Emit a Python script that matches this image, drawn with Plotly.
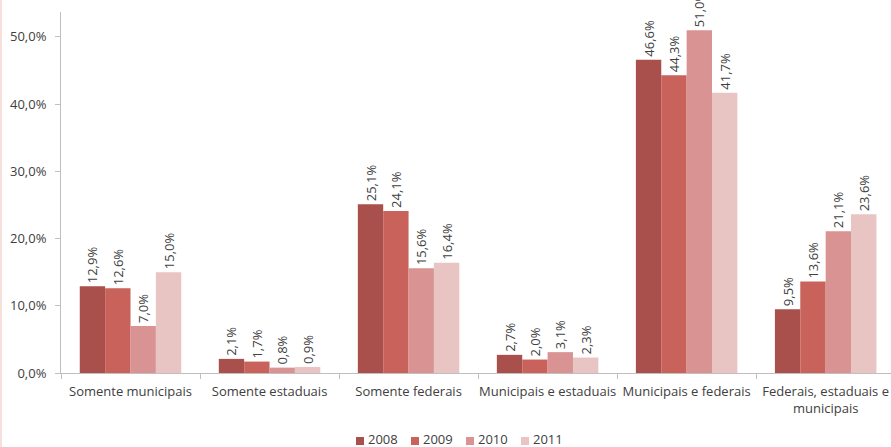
import plotly.graph_objects as go

categories = ["Somente municipais", "Somente estaduais", "Somente federais",
              "Municipais e estaduais", "Municipais e federais",
              "Federais, estaduais e<br>municipais"]
years = ["2008", "2009", "2010", "2011"]
values = {
    "2008": [12.9, 2.1, 25.1, 2.7, 46.6, 9.5],
    "2009": [12.6, 1.7, 24.1, 2.0, 44.3, 13.6],
    "2010": [7.0, 0.8, 15.6, 3.1, 51.0, 21.1],
    "2011": [15.0, 0.9, 16.4, 2.3, 41.7, 23.6],
}
colors = {"2008": "#A9504C", "2009": "#C8625B", "2010": "#D89392", "2011": "#E8C4C3"}
tick_vals = [0, 10, 20, 30, 40, 50]
tick_text = ["0,0%", "10,0%", "20,0%", "30,0%", "40,0%", "50,0%"]

FONT = "Open Sans"
TXT = "#404040"
W, H = 891, 447
ML, MR, MT, MB = 61, 0, 12, 74
PW, PH = W - ML - MR, H - MT - MB

fig = go.Figure()
for y in years:
    fig.add_trace(go.Bar(
        x=categories, y=values[y], name=y,
        marker=dict(color=colors[y], line=dict(width=0)),
        text=[f"{v:.1f}%".replace(".", ",") for v in values[y]],
        textposition="outside", textangle=-90, constraintext="none",
        textfont=dict(family=FONT, size=13, color=TXT),
        cliponaxis=False, showlegend=False,
    ))

fig.update_layout(
    width=W, height=H,
    margin=dict(l=ML, r=MR, t=MT, b=MB, autoexpand=False),
    paper_bgcolor="white", plot_bgcolor="white",
    barmode="group", bargap=0.27, bargroupgap=0,
    font=dict(family=FONT, size=13, color=TXT),
    showlegend=False,
)
fig.update_xaxes(
    range=[-0.5, 5.47], showline=True, linecolor="#bfbfbf", linewidth=1,
    ticks="outside", tickson="boundaries", ticklen=5, tickcolor="#bfbfbf",
    showgrid=False, automargin=False, tickangle=0, ticklabelstandoff=6,
    tickfont=dict(family=FONT, size=13, color=TXT),
)
fig.update_yaxes(
    range=[0, 53.7], tickvals=tick_vals, ticktext=tick_text,
    showline=True, linecolor="#bfbfbf", linewidth=1,
    ticks="outside", ticklen=5, tickcolor="#bfbfbf",
    showgrid=False, zeroline=False, automargin=False, ticklabelstandoff=6,
    tickfont=dict(family=FONT, size=13, color=TXT),
)

# chart border line on the left
fig.add_shape(type="line", xref="paper", yref="paper",
              x0=(1 - ML) / PW, x1=(1 - ML) / PW, y0=-MB / PH, y1=1 + MT / PH,
              line=dict(color="#f3d6cf", width=1.5))

# legend (bottom centre): small squares with year labels
legend_sq_x = [356, 411, 466, 521]
sq_y = 441
txt_y = 439
for yr, sx in zip(years, legend_sq_x):
    fig.add_shape(type="rect", xref="paper", yref="paper",
                  x0=(sx - ML) / PW, x1=(sx + 8 - ML) / PW,
                  y0=(MT + PH - (sq_y + 4)) / PH, y1=(MT + PH - (sq_y - 4)) / PH,
                  fillcolor=colors[yr], line=dict(width=0))
    fig.add_annotation(xref="paper", yref="paper",
                       x=(sx + 11 - ML) / PW, y=(MT + PH - txt_y) / PH,
                       text=yr, showarrow=False, xanchor="left", yanchor="middle",
                       borderpad=0,
                       font=dict(family=FONT, size=13, color=TXT))

fig.write_html("out.html", config={"displayModeBar": False},
               post_script="document.body.style.margin='0px';")
